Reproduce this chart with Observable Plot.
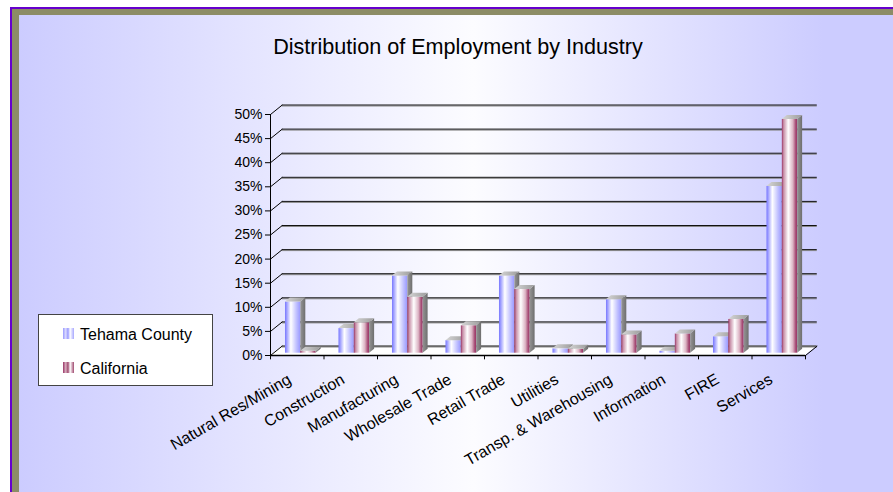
<!DOCTYPE html>
<html><head><meta charset="utf-8">
<script src="https://cdn.jsdelivr.net/npm/d3@7"></script>
<script src="https://cdn.jsdelivr.net/npm/@observablehq/plot@0.6"></script>
<style>
html,body{margin:0;padding:0;background:#fff;}
#wrap{position:relative;width:893px;height:492px;overflow:hidden;font-family:"Liberation Sans",Arial,sans-serif;color:#000;}
#frame{position:absolute;left:10px;top:7px;width:900px;height:500px;background:#8c8c66;border-left:2px solid #6600cc;border-top:2px solid #6600cc;}
#panel{position:absolute;left:19px;top:15px;right:0;bottom:0;background:linear-gradient(to right,#ccccff 0%,#fcfcff 52%,#ccccff 92%);}
#title{position:absolute;left:0;width:916px;text-align:center;top:36px;font-size:21.6px;line-height:22px;white-space:nowrap;}
#chart{position:absolute;left:0;top:0;}
#legend{position:absolute;left:38px;top:314px;width:173px;height:70px;background:#fff;border:1px solid #444;}
.item{position:absolute;left:0;font-size:16px;line-height:16px;white-space:nowrap;}
.sw{position:absolute;left:24px;width:11px;height:11px;}
.lt{position:absolute;left:41px;top:0;}
</style></head>
<body>
<div id="wrap">
  <div id="frame"></div>
  <div id="panel"></div>
  <div id="title">Distribution of Employment by Industry</div>
  <div id="chart"></div>
  <div id="legend"></div>
</div>
<script>
const categories = ["Natural Res/Mining","Construction","Manufacturing","Wholesale Trade","Retail Trade","Utilities","Transp. & Warehousing","Information","FIRE","Services"];
const tehama     = [0.106, 0.051, 0.160, 0.026, 0.160, 0.009, 0.111, 0.004, 0.034, 0.346];
const california = [0.004, 0.063, 0.116, 0.057, 0.132, 0.008, 0.038, 0.040, 0.070, 0.485];
const seriesNames = ["Tehama County", "California"];
const yTicks = [0, 0.05, 0.10, 0.15, 0.20, 0.25, 0.30, 0.35, 0.40, 0.45, 0.50];
const yTickLabels = ["0%","5%","10%","15%","20%","25%","30%","35%","40%","45%","50%"];

// layout constants (in scale units)
const N = categories.length;
const DX = 0.22, DY = 0.0197;          // depth of walls
const BX = 0.093, BY = 0.0083;         // depth of bars
const slots = [[0.28, 0.567], [0.567, 0.853]];
const gradIds = ["gT", "gC"];

const seriesValues = [tehama, california];
const bars = [], sides = [], tops = [];
seriesValues.forEach((vals, s) => {
  vals.forEach((v, i) => {
    const x1 = i + slots[s][0], x2 = i + slots[s][1], id = s + "-" + i;
    bars.push({s, id, x1, x2, v});
    sides.push({s, id, x: x2, y1: 0, y2: v}, {s, id, x: x2 + BX, y1: BY, y2: v + BY});
    tops.push({s, id, y: v, x1, x2}, {s, id, y: v + BY, x1: x1 + BX, x2: x2 + BX});
  });
});

const barMarks = [];
[0, 1].forEach(s => {
  barMarks.push(
    Plot.rect(bars.filter(d => d.s === s), {x1: "x1", x2: "x2", y1: 0, y2: "v", fill: `url(#${gradIds[s]})`, dy: -2.3}),
    Plot.areaY(sides.filter(d => d.s === s), {x: "x", y1: "y1", y2: "y2", z: "id", fill: "url(#gSide)", curve: "linear", dy: -2.3}),
    Plot.areaX(tops.filter(d => d.s === s), {y: "y", x1: "x1", x2: "x2", z: "id", fill: "url(#gTop)", curve: "linear", dy: -2.3})
  );
});

const chart = Plot.plot({
  width: 893, height: 492,
  marginLeft: 270, marginRight: 88, marginTop: 114, marginBottom: 137,
  x: {type: "linear", domain: [0, N], axis: null},
  y: {domain: [0, 0.5], axis: null},
  style: {background: "transparent", fontFamily: "'Liberation Sans', Arial, sans-serif", color: "#000", overflow: "visible"},
  marks: [
    // floor
    Plot.areaX([{y: 0, x1: 0, x2: N}, {y: DY, x1: DX, x2: N + DX}], {y: "y", x1: "x1", x2: "x2", fill: "#fff", curve: "linear"}),
    // back wall gridlines
    Plot.ruleY(yTicks, {y: d => d + DY, x1: DX, x2: N + DX, stroke: "#888", dy: 1}),
    Plot.ruleY(yTicks, {y: d => d + DY, x1: DX, x2: N + DX, stroke: "#111"}),
    // left wall diagonals
    Plot.link(yTicks, {x1: 0, x2: DX, y1: d => d, y2: d => d + DY, stroke: "#000"}),
    // front axis line and floor edge
    Plot.ruleX([0], {y1: 0, y2: 0.5, stroke: "#000"}),
    Plot.ruleY([0], {x1: 0, x2: N, stroke: "#000", strokeWidth: 1.3}),
    Plot.link([0], {x1: N, x2: N + DX, y1: 0, y2: DY, stroke: "#000"}),
    // category ticks
    Plot.ruleX(d3.range(N + 1), {x: d => d, y1: 0, y2: -0.009, stroke: "#000"}),
    ...barMarks,
    // category labels
    Plot.text(categories, {x: (d, i) => i + 0.5, y: 0, text: d => d, rotate: -30, textAnchor: "end", lineAnchor: "bottom", dx: -5, dy: 27, fontSize: 16, fill: "#000"}),
    Plot.axisY({ticks: yTicks, tickFormat: d => yTickLabels[yTicks.indexOf(d)], tickSize: 5, tickPadding: 3, fontSize: 14, stroke: "#000", fill: "#000"})
  ]
});

// gradients
const defs = d3.select(chart).insert("defs", ":first-child");
function grad(id, stops) {
  const g = defs.append("linearGradient").attr("id", id).attr("x1", "0").attr("x2", "1").attr("y1", "0").attr("y2", "0");
  stops.forEach(([o, c]) => g.append("stop").attr("offset", o).attr("stop-color", c));
}
grad("gT", [[0, "#7777ff"], [0.12, "#a0a0ff"], [0.38, "#ffffff"], [0.75, "#c0c0ff"], [1, "#9898ff"]]);
grad("gC", [[0, "#993366"], [0.12, "#c890a8"], [0.42, "#ffffff"], [0.72, "#dcb4c4"], [0.9, "#a85078"], [1, "#993366"]]);
grad("gSide", [[0, "#959595"], [1, "#6e6e6e"]]);
grad("gTop", [[0, "#d6d6d6"], [1, "#9c9c9c"]]);

document.getElementById("chart").appendChild(chart);

// legend
const swatchCss = [
  "linear-gradient(to right,#9999ff 0%,#dcdcff 25%,#9999ff 45%,#ffffff 65%,#a8a8ff 100%)",
  "linear-gradient(to right,#993366 0%,#d8b0c0 25%,#a04a70 45%,#ffffff 65%,#a04a70 100%)"
];
const legend = document.getElementById("legend");
seriesNames.forEach((name, i) => {
  const item = document.createElement("div");
  item.className = "item";
  item.style.top = (i === 0 ? 12 : 46) + "px";
  item.innerHTML = `<div class="sw" style="top:1px;background:${swatchCss[i]}"></div><div class="lt">${name}</div>`;
  legend.appendChild(item);
});
</script>
</body></html>
